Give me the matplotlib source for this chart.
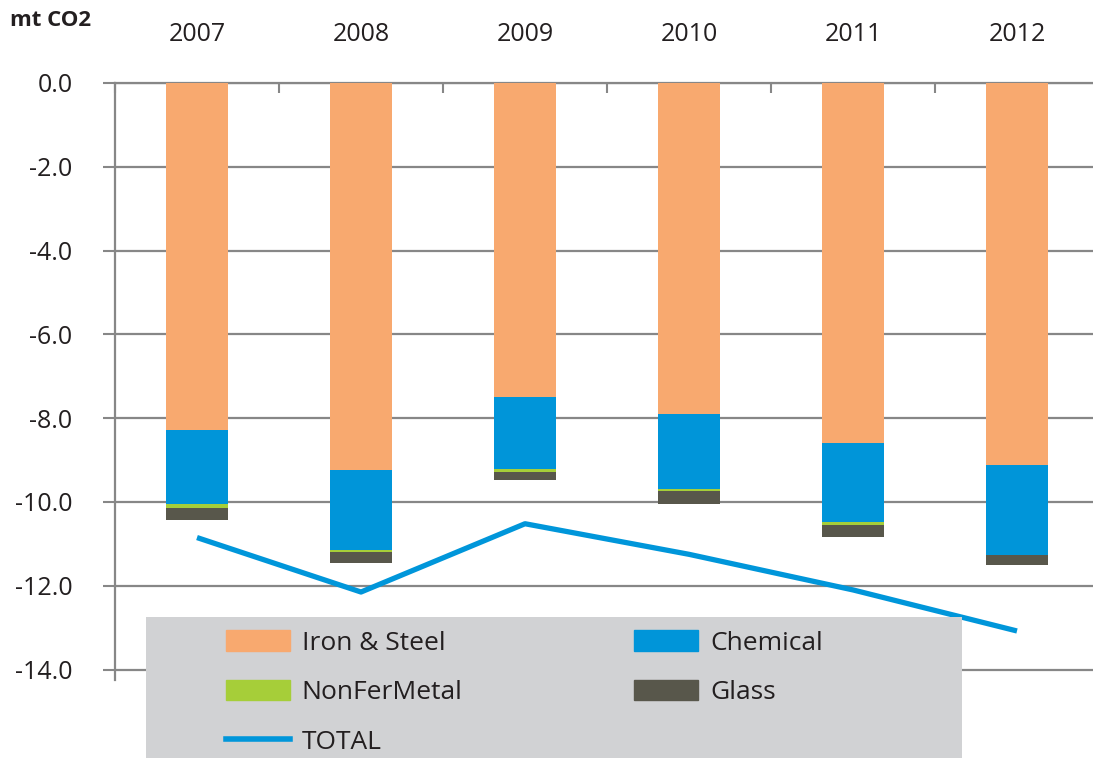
import numpy as np
import matplotlib
matplotlib.use('Agg')
import matplotlib.pyplot as plt
from matplotlib.patches import Rectangle, Patch
from matplotlib.lines import Line2D

plt.rcParams['font.family'] = ['Open Sans', 'DejaVu Sans']

# data (mt CO2, negative = reduction)
years = ['2007', '2008', '2009', '2010', '2011', '2012']
iron_steel = [-8.28, -9.23, -7.49, -7.89, -8.59, -9.13]
chemical = [-1.78, -1.91, -1.72, -1.79, -1.90, -2.13]
nonfermetal = [-0.09, -0.05, -0.07, -0.07, -0.05, 0.0]
glass = [-0.29, -0.27, -0.20, -0.29, -0.30, -0.25]
total = [-10.85, -12.15, -10.52, -11.25, -12.10, -13.08]

c_iron = '#F8A96F'
c_chem = '#0095D9'
c_nonfer = '#A6CE39'
c_glass = '#58574B'
c_total = '#0096DA'
c_axis = '#878787'
c_text = '#231F20'

W, H = 1093, 758
fig = plt.figure(figsize=(W / 100, H / 100), dpi=100)
# plot area in pixels: left 115, top 83, right 1099, bottom 680
ax = fig.add_axes([115 / W, 1 - 680 / H, 984 / W, 597 / H])

x = np.arange(len(years))
bw = 0.378
b1 = np.array(iron_steel)
b2 = b1 + np.array(chemical)
b3 = b2 + np.array(nonfermetal)
ax.bar(x, iron_steel, bw, color=c_iron, zorder=3)
ax.bar(x, chemical, bw, bottom=b1, color=c_chem, zorder=3)
ax.bar(x, nonfermetal, bw, bottom=b2, color=c_nonfer, zorder=3)
ax.bar(x, glass, bw, bottom=b3, color=c_glass, zorder=3)
ax.plot(x, total, color=c_total, lw=3.8, zorder=4, solid_capstyle='butt')

ax.set_xlim(-0.5, 5.5)
ax.set_ylim(-14.25, 0)
yt = np.arange(0, -14.1, -2)
ax.set_yticks(yt)
ax.set_yticklabels(['%.1f' % v for v in yt])
ax.yaxis.grid(True, color=c_axis, lw=1.6, zorder=1)
ax.set_axisbelow(True)

# years on top, ticks between categories
ax.xaxis.tick_top()
ax.set_xticks(x)
ax.set_xticklabels(years)
ax.set_xticks(np.arange(-0.5, 6.0, 1.0), minor=True)
ax.tick_params(axis='x', which='major', length=0, pad=26, labelsize=18,
               labelcolor=c_text)
ax.tick_params(axis='x', which='minor', direction='in', length=7.5,
               width=1.5, color=c_axis, top=True, bottom=False)
ax.tick_params(axis='y', direction='out', length=8.6, width=1.5,
               color=c_axis, pad=22, labelsize=18, labelcolor=c_text)
for s in ['right', 'bottom']:
    ax.spines[s].set_visible(False)
for s in ['left', 'top']:
    ax.spines[s].set_color(c_axis)
    ax.spines[s].set_linewidth(1.6)

fig.text(10 / W, 1 - 20 / H, 'mt CO2', fontsize=16, fontweight='bold',
         color=c_text, va='center', ha='left')

# legend box
fig.add_artist(Rectangle((146 / W, 0), 816 / W, 141 / H,
                         transform=fig.transFigure, facecolor='#D1D2D4',
                         edgecolor='none', zorder=4))
handles = [Patch(color=c_iron), Patch(color=c_nonfer),
           Line2D([], [], color=c_total, lw=4),
           Patch(color=c_chem), Patch(color=c_glass)]
labels = ['Iron & Steel', 'NonFerMetal', 'TOTAL', 'Chemical', 'Glass']
leg = fig.legend(handles, labels, ncol=2, loc='upper left',
                 bbox_to_anchor=(226 / W, 1 - 630 / H), frameon=False,
                 fontsize=19, handlelength=2.42, handleheight=0.83,
                 handletextpad=0.45, labelspacing=0.92, columnspacing=6.5,
                 borderpad=0, borderaxespad=0)
leg.set_zorder(5)
for t in leg.get_texts():
    t.set_color(c_text)

fig.savefig('out.png', dpi=100)
